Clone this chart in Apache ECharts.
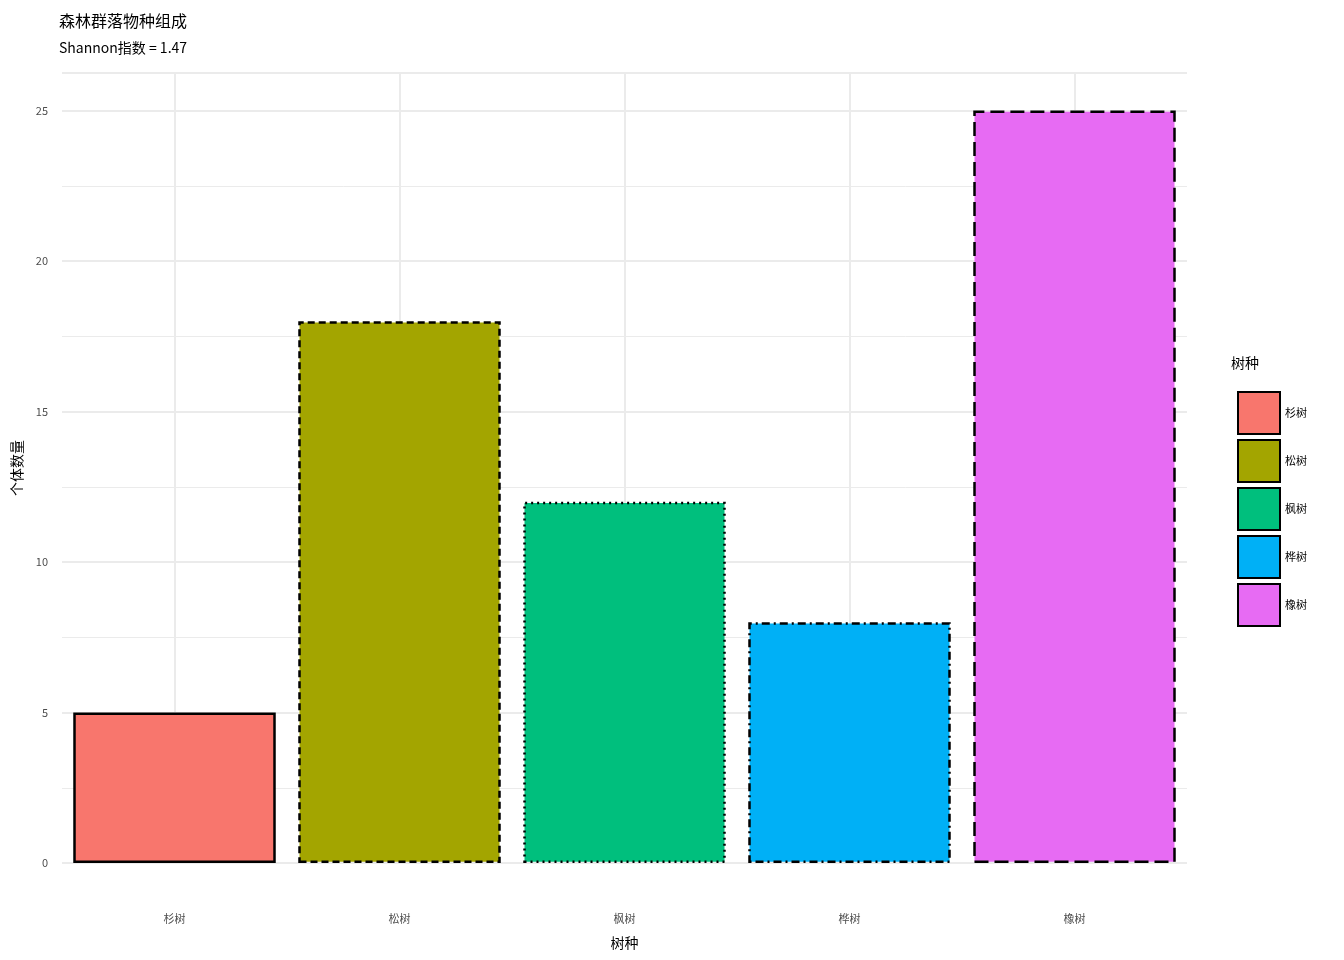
<!DOCTYPE html><html><head><meta charset="utf-8">
<script src="https://cdn.jsdelivr.net/npm/echarts@6/dist/echarts.min.js"></script>
<style>html,body{margin:0}#c{width:1344px;height:960px}</style></head><body><div id="c"></div>
<script>
const categories=['杉树','松树','枫树','桦树','橡树'];
const values=[5,18,12,8,25];
const colors=['#F8766D','#A3A500','#00BF7D','#00B0F6','#E76BF3'];
const borderTypes=['solid',[7,4],[2,4],[2,4,8,4],[14,6]];
const F='"Noto Sans CJK SC","Noto Sans",sans-serif';
const chart=echarts.init(document.getElementById('c'));
const series=categories.map((name,i)=>({
  name,type:'bar',barWidth:'90%',barGap:'-100%',
  data:categories.map((c,j)=>j===i?values[i]:'-'),
  itemStyle:{color:colors[i],borderColor:'#000',borderWidth:2.5,borderType:borderTypes[i]},
  markLine:i===0?{silent:true,symbol:'none',label:{show:false},lineStyle:{color:'#ebebeb',width:2,type:'solid'},z:0,
    data:categories.map(c=>({xAxis:c}))}:undefined,
  z:3
}));
chart.setOption({
  animation:false,
  textStyle:{fontFamily:F},
  title:{text:'森林群落物种组成',subtext:'Shannon指数 = 1.47',left:54,top:8,
    textStyle:{fontSize:16,fontWeight:'normal',color:'#000',fontFamily:F},
    subtextStyle:{fontSize:14,color:'#000',fontFamily:F},itemGap:12},
  grid:{left:62,right:157,top:73,bottom:97},
  xAxis:{type:'category',data:categories,axisLine:{show:false},axisTick:{show:false},
    axisLabel:{margin:50,fontSize:11,color:'#4d4d4d'},
    name:'树种',nameLocation:'middle',nameGap:73,nameTextStyle:{fontSize:14,color:'#000'}},
  yAxis:{type:'value',min:0,max:26.25,interval:5,
    axisLabel:{fontSize:11,color:'#4d4d4d',margin:14,formatter:v=>v%5===0?v:''},
    splitLine:{lineStyle:{color:'#ebebeb',width:2}},
    minorTick:{show:false,splitNumber:2},minorSplitLine:{show:true,lineStyle:{color:'#ebebeb',width:1}},
    name:'个体数量',nameLocation:'middle',nameGap:38,nameTextStyle:{fontSize:14,color:'#000'}},
  legend:{orient:'vertical',left:1232,top:386,itemWidth:42,itemHeight:42,itemGap:4,
    icon:'rect',textStyle:{fontSize:11,color:'#000'},data:categories},
  graphic:[{type:'text',left:1231,top:356,style:{text:'树种',fontSize:14,fill:'#000',fontFamily:F}}],
  series
});
</script></body></html>
